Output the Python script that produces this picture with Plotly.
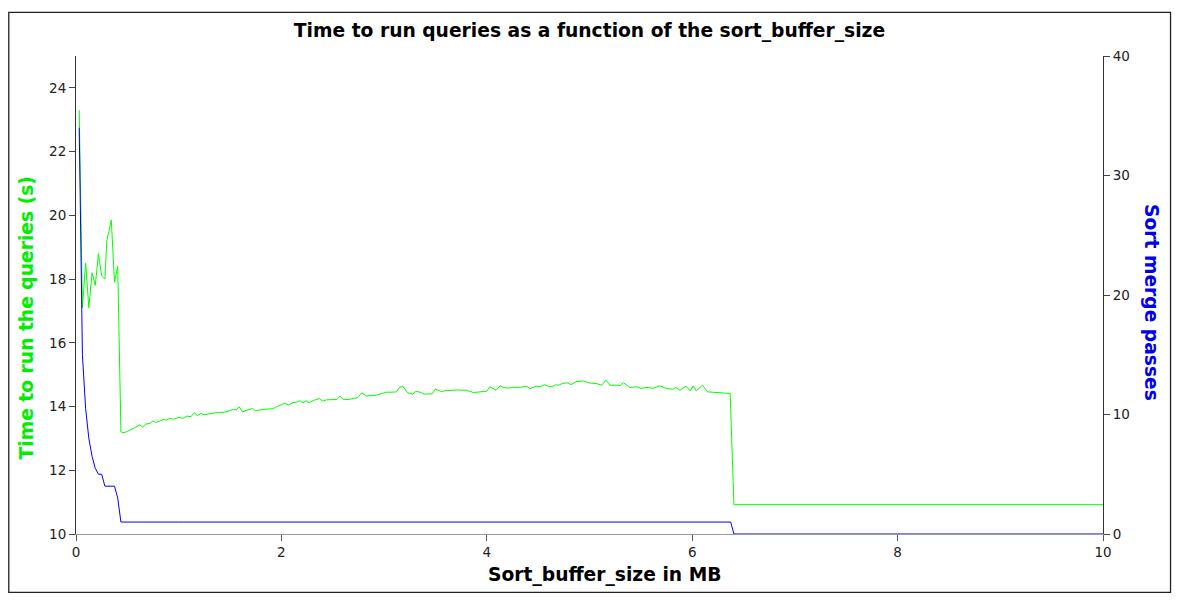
import plotly.graph_objects as go

# time to run queries (left axis)
size_mb_time = [
    0.03125, 0.0625, 0.09375, 0.125, 0.15625, 0.1875, 0.21875, 0.25, 0.28125, 0.3,
    0.32, 0.34375, 0.375, 0.40625, 0.4375, 0.46875, 0.5, 0.53, 0.56, 0.6,
    0.62, 0.65, 0.68, 0.72, 0.75, 0.78, 0.82, 0.86, 0.88, 0.91,
    0.95, 1.0, 1.04, 1.08, 1.12, 1.15, 1.18, 1.22, 1.25, 1.3,
    1.35, 1.4, 1.46, 1.52, 1.56, 1.59, 1.62, 1.66, 1.72, 1.75,
    1.8, 1.86, 1.92, 1.95, 1.99, 2.03, 2.07, 2.11, 2.15, 2.18,
    2.21, 2.24, 2.27, 2.32, 2.37, 2.4, 2.44, 2.5, 2.54, 2.57,
    2.6, 2.63, 2.66, 2.7, 2.74, 2.78, 2.83, 2.88, 2.92, 2.97,
    3.02, 3.08, 3.12, 3.15, 3.18, 3.23, 3.28, 3.31, 3.35, 3.39,
    3.44, 3.47, 3.5, 3.56, 3.6, 3.65, 3.7, 3.75, 3.8, 3.87,
    3.92, 3.97, 4.0, 4.03, 4.09, 4.13, 4.16, 4.21, 4.26, 4.32,
    4.36, 4.39, 4.42, 4.48, 4.52, 4.56, 4.6, 4.63, 4.67, 4.7,
    4.74, 4.79, 4.82, 4.87, 4.94, 5.0, 5.07, 5.12, 5.16, 5.2,
    5.27, 5.3, 5.33, 5.39, 5.46, 5.5, 5.56, 5.62, 5.68, 5.75,
    5.81, 5.84, 5.88, 5.94, 5.98, 6.01, 6.04, 6.1, 6.15, 6.2,
    6.27, 6.37, 6.40625, 7.0, 8.0, 8.2, 8.4, 9.0, 10.0,
]
time_s = [
    23.3, 17.1, 18.5, 17.1, 18.2, 17.8, 18.8, 18.1, 18.0, 19.2,
    19.5, 19.85, 17.9, 18.4, 13.2, 13.18, 13.22, 13.27, 13.3, 13.38,
    13.42, 13.36, 13.45, 13.47, 13.55, 13.5, 13.54, 13.6, 13.57, 13.63,
    13.6, 13.66, 13.63, 13.7, 13.68, 13.81, 13.72, 13.78, 13.74, 13.78,
    13.8, 13.81, 13.83, 13.9, 13.9, 13.99, 13.83, 13.88, 13.94, 13.86,
    13.9, 13.92, 13.93, 13.99, 14.05, 14.1, 14.05, 14.12, 14.14, 14.18,
    14.12, 14.18, 14.12, 14.2, 14.25, 14.17, 14.21, 14.22, 14.22, 14.33,
    14.23, 14.22, 14.22, 14.26, 14.27, 14.43, 14.33, 14.35, 14.35, 14.4,
    14.45, 14.45, 14.46, 14.6, 14.64, 14.43, 14.39, 14.48, 14.45, 14.39,
    14.4, 14.4, 14.55, 14.46, 14.51, 14.5, 14.52, 14.51, 14.51, 14.44,
    14.46, 14.46, 14.48, 14.62, 14.51, 14.65, 14.6, 14.58, 14.6, 14.6,
    14.62, 14.64, 14.56, 14.64, 14.62, 14.69, 14.63, 14.62, 14.68, 14.67,
    14.73, 14.74, 14.69, 14.78, 14.8, 14.74, 14.72, 14.67, 14.83, 14.67,
    14.67, 14.66, 14.75, 14.6, 14.62, 14.57, 14.6, 14.57, 14.65, 14.57,
    14.54, 14.6, 14.51, 14.64, 14.49, 14.65, 14.49, 14.67, 14.46, 14.45,
    14.44, 14.41, 10.92, 10.92, 10.92, 10.9, 10.92, 10.92, 10.92,
]

# sort merge passes (right axis)
size_mb_passes = [
    0.03125, 0.0625, 0.09375, 0.125, 0.15625, 0.1875, 0.21875, 0.25, 0.28125, 0.3125,
    0.34375, 0.375, 0.40625, 0.4375, 1.0, 3.0, 5.0, 6.375, 6.40625, 8.0, 10.0,
]
merge_passes = [
    34, 15, 10.5, 8, 6.5, 5.5, 5, 5, 4, 4,
    4, 4, 3, 1, 1, 1, 1, 1, 0, 0, 0,
]

font = "DejaVu Sans, Verdana, sans-serif"
big = 18.7

fig = go.Figure()
fig.add_trace(go.Scatter(x=size_mb_time, y=time_s, mode="lines",
                         line=dict(color="#00ff00", width=1), yaxis="y"))
fig.add_trace(go.Scatter(x=size_mb_passes, y=merge_passes, mode="lines",
                         line=dict(color="#0000ff", width=1), yaxis="y2"))

axis_common = dict(showgrid=False, zeroline=False, showline=True, linecolor="#333",
                   linewidth=1, ticks="outside", ticklen=6, tickcolor="#444",
                   tickfont=dict(family=font, size=13.5, color="#222"))


def px_x(p):
    # pixel column -> paper x
    return (p - 76.5) / 1026.5


def px_y(p):
    # pixel row -> paper y
    return (534 - p) / 478


fig.update_layout(
    width=1179, height=605,
    margin=dict(l=76, r=76, t=56, b=71),
    paper_bgcolor="white", plot_bgcolor="white",
    showlegend=False,
    font=dict(family=font),
    title=dict(text="<b>Time to run queries as a function of the sort_buffer_size</b>",
               x=0.5, xanchor="center", y=1 - 30 / 605, yanchor="middle",
               font=dict(family=font, size=big, color="black")),
    xaxis=dict(axis_common, range=[0, 10], dtick=2, linecolor="#999", tickcolor="#555"),
    yaxis=dict(axis_common, range=[10, 25], dtick=2),
    yaxis2=dict(axis_common, range=[0, 40], dtick=10, overlaying="y", side="right"),
    annotations=[
        dict(text="<b>Sort_buffer_size in MB</b>", xref="paper", yref="paper",
             x=px_x(604.5), y=px_y(575), xanchor="center", yanchor="middle",
             showarrow=False, font=dict(family=font, size=big, color="black")),
        dict(text="<b>Time to run the queries (s)</b>", xref="paper", yref="paper",
             x=px_x(28), y=px_y(318), xanchor="center", yanchor="middle",
             textangle=-90, showarrow=False,
             font=dict(family=font, size=big, color="#00ee00")),
        dict(text="<b>Sort merge passes</b>", xref="paper", yref="paper",
             x=px_x(1152), y=px_y(302), xanchor="center", yanchor="middle",
             textangle=90, showarrow=False,
             font=dict(family=font, size=big, color="#0000ee")),
    ],
    shapes=[
        dict(type="rect", xref="paper", yref="paper",
             x0=px_x(9.3), x1=px_x(1170.5), y0=px_y(592.3), y1=px_y(12.3),
             line=dict(color="#222", width=1.3)),
    ],
)

fig.write_html("out.html", config={"displayModeBar": False},
               post_script="document.body.style.margin='0';")
